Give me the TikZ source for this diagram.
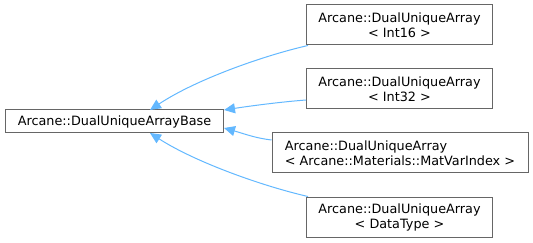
\documentclass[tikz,border=0pt]{standalone}
\usepackage{fontspec}
\setmainfont{DejaVu Sans}
\usetikzlibrary{arrows.meta}
\definecolor{edgeblue}{HTML}{63B8FF}
\definecolor{boxgray}{HTML}{666666}
\tikzset{
  cls/.style={draw=boxgray, fill=white, line width=1pt, inner sep=0pt, font=\fontsize{12.8}{15}\selectfont, align=center},
  inh/.style={draw=edgeblue, line width=1pt, -{Triangle[width=10pt,length=11pt,fill=edgeblue]}},
}
\begin{document}
\begin{tikzpicture}[x=1pt,y=-1pt]
  \useasboundingbox (0,0) rectangle (533,243);
  % class boxes
  \node[cls, minimum width=218, minimum height=23] (base) at (114.5,121.5) {Arcane::DualUniqueArrayBase};
  \node[cls, minimum width=186, minimum height=40] (i16) at (399.5,25) {Arcane::DualUniqueArray\\\textless{} Int16 \textgreater{}};
  \node[cls, minimum width=186, minimum height=40] (i32) at (399.5,89) {Arcane::DualUniqueArray\\\textless{} Int32 \textgreater{}};
  \node[cls, minimum width=256, minimum height=40, align=left] (mvi) at (400,153) {Arcane::DualUniqueArray\\\textless{} Arcane::Materials::MatVarIndex \textgreater{}};
  \node[cls, minimum width=186, minimum height=40] (dt) at (399.5,217) {Arcane::DualUniqueArray\\\textless{} DataType \textgreater{}};
  % inheritance edges
  \coordinate (b16) at (150,110);
  \coordinate (bdt) at (150,133);
  \coordinate (b32) at (224,110);
  \coordinate (bmv) at (224,128);
  \draw[inh] (i16.south west) ++(2,0) coordinate (s16)
    (s16) .. controls (262,56) and (195,80) .. (b16);
  \draw[inh] (i32.west) ++(0,11) coordinate (s32)
    (s32) .. controls (280,102) and (250,106) .. (b32);
  \draw[inh] (mvi.west) ++(0,-13) coordinate (smv)
    (smv) .. controls (255,138) and (245,134) .. (bmv);
  \draw[inh] (dt.north west) ++(2,0) coordinate (sdt)
    (sdt) .. controls (262,186) and (195,162) .. (bdt);
\end{tikzpicture}
\end{document}
